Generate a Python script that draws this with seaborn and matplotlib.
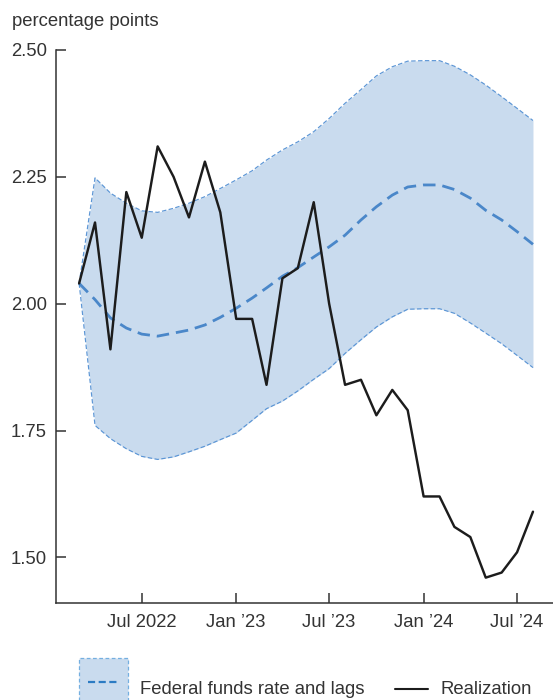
import pandas as pd
import matplotlib
matplotlib.use("Agg")
import matplotlib.pyplot as plt
from matplotlib.patches import Rectangle
from matplotlib.lines import Line2D
from matplotlib.legend_handler import HandlerBase
import seaborn as sns

# Monthly observations, Mar 2022 - Aug 2024
months = pd.date_range("2022-03-01", "2024-08-01", freq="MS")

realization = [2.04, 2.16, 1.91, 2.22, 2.13, 2.31, 2.25, 2.17, 2.28, 2.18,
               1.97, 1.97, 1.84, 2.05, 2.07, 2.20, 2.00, 1.84, 1.85, 1.78,
               1.83, 1.79, 1.62, 1.62, 1.56, 1.54, 1.46, 1.47, 1.51, 1.59]

fed_funds_mean = [2.040, 2.008, 1.972, 1.952, 1.940, 1.936, 1.942, 1.948, 1.958, 1.973,
                  1.991, 2.011, 2.031, 2.054, 2.071, 2.092, 2.112, 2.135, 2.165, 2.191,
                  2.214, 2.230, 2.234, 2.234, 2.225, 2.208, 2.184, 2.165, 2.142, 2.117]

band_upper = [2.040, 2.248, 2.218, 2.198, 2.183, 2.180, 2.188, 2.198, 2.211, 2.227,
              2.244, 2.262, 2.283, 2.303, 2.319, 2.339, 2.365, 2.395, 2.422, 2.449,
              2.467, 2.478, 2.479, 2.479, 2.468, 2.451, 2.431, 2.408, 2.385, 2.361]

band_lower = [2.040, 1.760, 1.734, 1.714, 1.699, 1.693, 1.698, 1.708, 1.719, 1.732,
              1.745, 1.770, 1.793, 1.808, 1.828, 1.851, 1.872, 1.902, 1.929, 1.954,
              1.974, 1.989, 1.990, 1.990, 1.981, 1.962, 1.942, 1.921, 1.898, 1.874]

tick_dates = ["2022-07-01", "2023-01-01", "2023-07-01", "2024-01-01", "2024-07-01"]
tick_labels = ["Jul 2022", "Jan \u201923", "Jul \u201923", "Jan \u201924", "Jul \u201924"]
y_ticks = [1.50, 1.75, 2.00, 2.25, 2.50]

legend_labels = ["Federal funds rate and lags", "Realization"]
y_unit_label = "percentage points"

df = pd.DataFrame({
    "month": months,
    "realization": realization,
    "mean": fed_funds_mean,
    "upper": band_upper,
    "lower": band_lower,
})

FILL = "#c9dbee"
EDGE = "#5b95d5"
MEAN = "#4a87c9"
BLACK = "#1c1c1c"
TEXT = "#333333"
FS = 13.3

sns.set_theme(style="white")
plt.rcParams["font.family"] = ["Liberation Sans", "DejaVu Sans"]
plt.rcParams["text.color"] = TEXT

fig = plt.figure(figsize=(5.53, 7.0), dpi=100)
W, H = 553, 700
ax = fig.add_axes([56 / W, 1 - 603 / H, (W - 56) / W, (603 - 50) / H])

# Confidence band
ax.fill_between(df["month"], df["lower"], df["upper"], color=FILL, lw=0, zorder=1)
sns.lineplot(data=df, x="month", y="upper", ax=ax, color=EDGE, lw=0.85,
             linestyle=(0, (3.8, 2.0)), zorder=2)
sns.lineplot(data=df, x="month", y="lower", ax=ax, color=EDGE, lw=0.85,
             linestyle=(0, (3.8, 2.0)), zorder=2)
# Central path
sns.lineplot(data=df, x="month", y="mean", ax=ax, color=MEAN, lw=2.0,
             linestyle=(0, (4.5, 2.5)), zorder=3)
# Realized values
sns.lineplot(data=df, x="month", y="realization", ax=ax, color=BLACK, lw=1.75, zorder=4)

ax.set_xlim(pd.Timestamp("2022-01-15"), pd.Timestamp("2024-09-09"))
ax.set_ylim(1.41, 2.50)
ax.set_xticks([pd.Timestamp(d) for d in tick_dates])
ax.set_xticklabels(tick_labels)
ax.set_yticks(y_ticks)
ax.set_yticklabels([f"{v:.2f}" for v in y_ticks])
ax.set_xlabel("")
ax.set_ylabel("")

for side in ["top", "right"]:
    ax.spines[side].set_visible(False)
for side in ["left", "bottom"]:
    ax.spines[side].set_color(TEXT)
    ax.spines[side].set_linewidth(1.1)
ax.tick_params(axis="both", which="major", bottom=True, left=True, top=False, right=False,
               direction="in", length=7.5, width=1.1, color=TEXT,
               labelsize=FS, labelcolor=TEXT)
ax.tick_params(axis="y", pad=6.5)
ax.tick_params(axis="x", pad=8.0)
ax.grid(False)
ax.set_facecolor("white")

fig.text(12 / W, 1 - 21 / H, y_unit_label, ha="left", va="center", fontsize=FS, color=TEXT)


class BandHandler(HandlerBase):
    def create_artists(self, legend, orig_handle, xdescent, ydescent, width, height,
                       fontsize, trans):
        rect = Rectangle((-xdescent, -ydescent), width, height, facecolor=FILL,
                         edgecolor="#74afe0", lw=0.9, linestyle=(0, (3, 2)),
                         transform=trans)
        ymid = 0.62 * fontsize
        line = Line2D([-xdescent + 0.18 * width, -xdescent + 0.84 * width], [ymid, ymid],
                      color="#2b7bc3", lw=1.6, linestyle=(0, (3.2, 1.6)), transform=trans)
        return [rect, line]


class ShortLineHandler(HandlerBase):
    def create_artists(self, legend, orig_handle, xdescent, ydescent, width, height,
                       fontsize, trans):
        y = 0.27 * fontsize
        line = Line2D([-xdescent + width * (16 / 49), -xdescent + width], [y, y],
                      color=BLACK, lw=1.5, transform=trans)
        return [line]


band_key = object()
line_key = object()

fig.legend(
    [band_key, line_key], legend_labels,
    handler_map={band_key: BandHandler(), line_key: ShortLineHandler()},
    loc="upper left", bbox_to_anchor=(79 / W, 1 - 658 / H),
    ncol=2, frameon=False, fontsize=FS, borderpad=0, borderaxespad=0,
    handlelength=2.65, handleheight=4.85, handletextpad=0.65, columnspacing=0.81,
)

fig.savefig("out.png", dpi=100)
